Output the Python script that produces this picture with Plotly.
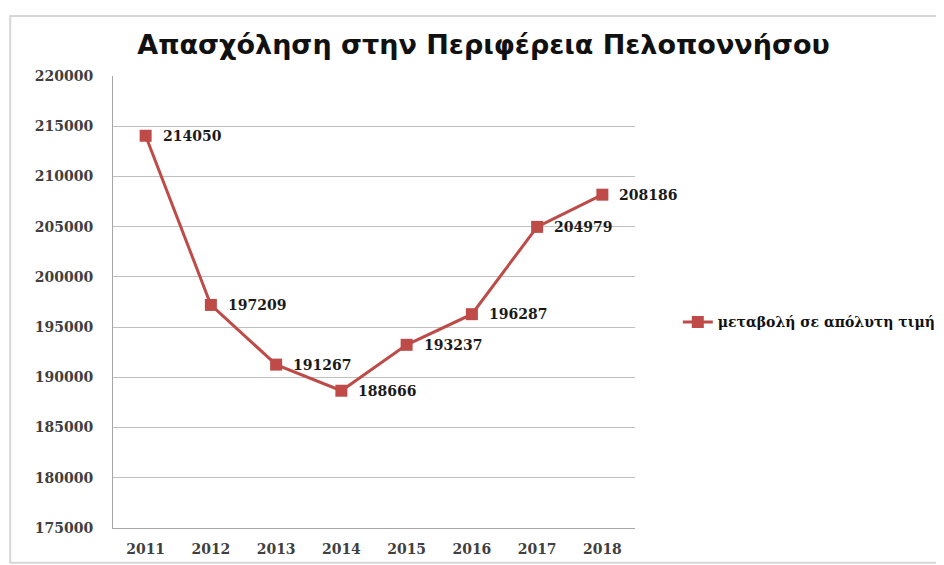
import plotly.graph_objects as go

years = ["2011", "2012", "2013", "2014", "2015", "2016", "2017", "2018"]
values = [214050, 197209, 191267, 188666, 193237, 196287, 204979, 208186]
series_name = "μεταβολή σε απόλυτη τιμή"
title_text = "Απασχόληση στην Περιφέρεια Πελοποννήσου"

line_color = "#BE4B48"
tick_font = dict(family="DejaVu Serif", size=14, color="#404040", weight="bold")
label_font = dict(family="DejaVu Serif", size=14, color="#1a1a1a", weight="bold")

fig = go.Figure()
fig.add_trace(go.Scatter(
    x=years, y=values, name=series_name,
    mode="lines+markers",
    line=dict(color=line_color, width=3),
    marker=dict(symbol="square", size=12, color=line_color),
    cliponaxis=False,
))
# data labels: category axis positions are the category serial numbers
for i, v in enumerate(values):
    fig.add_annotation(x=i, y=v, xref="x", yref="y", text=str(v), showarrow=False,
                       xanchor="left", yanchor="middle", xshift=15,
                       font=label_font)

fig.update_layout(
    width=936, height=557,
    margin=dict(l=105, r=309, t=68, b=37, autoexpand=False),
    paper_bgcolor="white", plot_bgcolor="white",
    title=dict(text=title_text, x=0.508, xanchor="center", y=0.935, yanchor="middle",
               font=dict(family="DejaVu Sans", size=27, color="#111111", weight="bold")),
    showlegend=True,
    legend=dict(x=1.082, y=0.455, xanchor="left", yanchor="middle",
                font=dict(family="DejaVu Serif", size=14, color="#111111", weight="bold"),
                itemwidth=30, bgcolor="rgba(0,0,0,0)"),
    xaxis=dict(type="category", showgrid=False, showline=True, linecolor="#A6A6A6",
               linewidth=1, ticks="", tickfont=tick_font, range=[-0.5, 7.5],
               ticklabelstandoff=8),
    yaxis=dict(range=[175000, 220000], dtick=5000, showgrid=True, gridcolor="#BFBFBF",
               gridwidth=1, showline=True, linecolor="#A6A6A6", linewidth=1,
               ticks="", tickfont=tick_font, tickformat="d", zeroline=False,
               ticklabelstandoff=16),
)
fig.add_shape(type="rect", xref="paper", yref="paper",
              x0=-0.197, x1=1.7, y0=-0.077, y1=1.133,
              line=dict(color="#D6D6D6", width=2), layer="below")

fig.write_html("out.html")
